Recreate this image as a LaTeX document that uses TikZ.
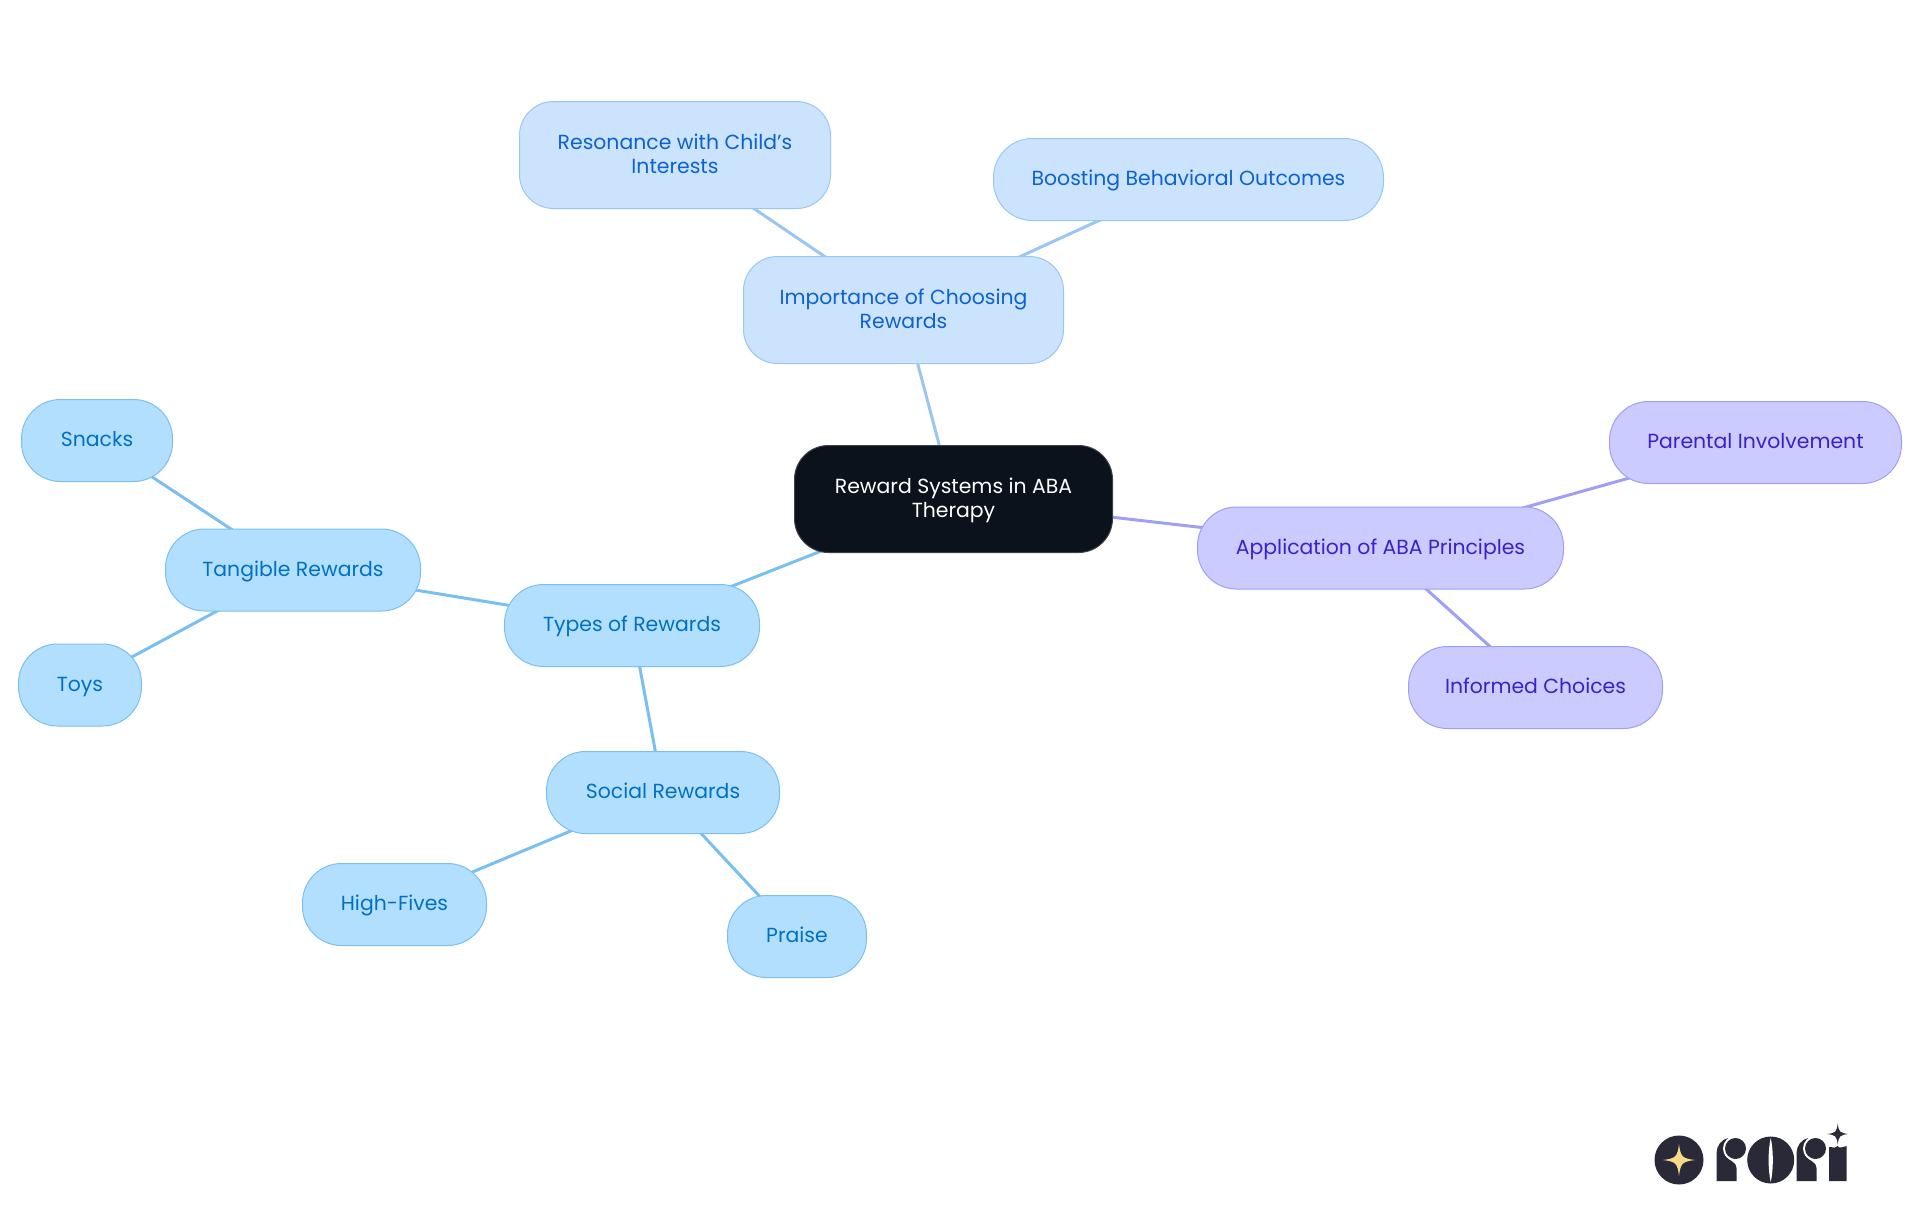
\documentclass[tikz,border=0pt]{standalone}
\usepackage{fontspec}
\setmainfont{Poppins}
\usetikzlibrary{backgrounds}
\definecolor{rootfill}{HTML}{0B121B}
\definecolor{rootline}{HTML}{3C4149}
\definecolor{paleblue}{HTML}{CCE3FD}
\definecolor{paleline}{HTML}{9AC6F3}
\definecolor{paletext}{HTML}{0B62D0}
\definecolor{skyblue}{HTML}{B3DFFF}
\definecolor{skyline}{HTML}{7ABFF2}
\definecolor{skytext}{HTML}{0070C4}
\definecolor{lilac}{HTML}{CBCBFF}
\definecolor{lilacline}{HTML}{9F9FF6}
\definecolor{lilactext}{HTML}{3A22C8}
\definecolor{logodark}{HTML}{2A2937}
\definecolor{logostar}{HTML}{FBD98A}
\tikzset{
  box/.style={rectangle,rounded corners=39pt,line width=1pt,align=center,
    font=\fontsize{20.4}{24.5}\selectfont,inner sep=0pt,minimum height=82pt,
    text height=15.5pt,text depth=3pt},
  tall/.style={rounded corners=34pt,minimum height=107pt,text height=40pt},
  rootbox/.style={box,fill=rootfill,draw=rootline,text=white},
  palebox/.style={box,fill=paleblue,draw=paleline,text=paletext},
  skybox/.style={box,fill=skyblue,draw=skyline,text=skytext},
  lilacbox/.style={box,fill=lilac,draw=lilacline,text=lilactext},
  link/.style={line width=3pt}
}
\newcommand{\logostar}[3]{% x, y, radius
  \fill (#1-#3,#2) .. controls (#1-.2*#3,#2-.1*#3) and (#1-.1*#3,#2-.2*#3) .. (#1,#2-#3)
    .. controls (#1+.1*#3,#2-.2*#3) and (#1+.2*#3,#2-.1*#3) .. (#1+#3,#2)
    .. controls (#1+.2*#3,#2+.1*#3) and (#1+.1*#3,#2+.2*#3) .. (#1,#2+#3)
    .. controls (#1-.1*#3,#2+.2*#3) and (#1-.2*#3,#2+.1*#3) .. (#1-#3,#2) -- cycle;
}
\newcommand{\logor}[1]{% the letter r, from its left edge
  \fill[logodark] (#1,1181) -- (#1,1153) .. controls (#1,1146) and (#1+5,1139) .. (#1+12,1138)
    .. controls (#1+7,1144) and (#1+6,1152) .. (#1+9,1156)
    .. controls (#1+13,1161) and (#1+20,1162) .. (#1+20,1168) -- (#1+20,1181) -- cycle;
  \fill[white] (#1+19,1148.5) circle (12.5);
  \fill[logodark] (#1+19,1148.5) circle (10.5);
}
\begin{document}
\begin{tikzpicture}[x=1pt,y=-1pt]
\useasboundingbox (0,0) rectangle (1920,1215);
% center
\node[rootbox,tall,minimum width=318pt] (root) at (953.5,499) {Reward Systems in ABA\\Therapy};
% top branch
\node[palebox,tall,minimum width=320pt] (choosing) at (903.5,310) {Importance of Choosing\\Rewards};
\node[palebox,tall,minimum width=311pt] (interests) at (675,155) {Resonance with Child's\\Interests};
\node[palebox,minimum width=390pt] (outcomes) at (1188.5,179.5) {Boosting Behavioral Outcomes};
% right branch
\node[lilacbox,minimum width=366pt] (principles) at (1380.5,548) {Application of ABA Principles};
\node[lilacbox,minimum width=292pt] (parental) at (1755.5,442.5) {Parental Involvement};
\node[lilacbox,minimum width=254pt] (informed) at (1535.5,687.5) {Informed Choices};
% left branch
\node[skybox,minimum width=255pt] (types) at (632,625.5) {Types of Rewards};
\node[skybox,minimum width=255pt] (tangible) at (293,570) {Tangible Rewards};
\node[skybox,minimum width=151pt] (snacks) at (97,440.5) {Snacks};
\node[skybox,minimum width=123pt] (toys) at (80,685) {Toys};
\node[skybox,minimum width=233pt] (social) at (663,792.5) {Social Rewards};
\node[skybox,minimum width=184pt] (fives) at (394.5,904.5) {High-Fives};
\node[skybox,minimum width=139pt] (praise) at (797,936.5) {Praise};
\begin{scope}[on background layer]
\draw[link,paleline] (root.center) -- (choosing.center);
\draw[link,paleline] (choosing.center) -- (interests.center);
\draw[link,paleline] (choosing.center) -- (outcomes.center);
\draw[link,lilacline] (root.center) -- (principles.center);
\draw[link,lilacline] (principles.center) -- (parental.center);
\draw[link,lilacline] (principles.center) -- (informed.center);
\draw[link,skyline] (root.center) -- (types.center);
\draw[link,skyline] (types.center) -- (tangible.center);
\draw[link,skyline] (tangible.center) -- (snacks.center);
\draw[link,skyline] (tangible.center) -- (toys.center);
\draw[link,skyline] (types.center) -- (social.center);
\draw[link,skyline] (social.center) -- (fives.center);
\draw[link,skyline] (social.center) -- (praise.center);
\end{scope}
% logo
\fill[logodark] (1679,1160) circle (24.5);
\begin{scope}[logostar]
\logostar{1679}{1160}{16}
\end{scope}
\logor{1716.5}
\fill[logodark] (1770.7,1160) circle (23.5);
\fill[white] (1770.7,1138) .. controls (1773.5,1150) and (1773.5,1170) .. (1770.7,1182)
  .. controls (1767.9,1170) and (1767.9,1150) .. (1770.7,1138) -- cycle;
\logor{1796.5}
\fill[logodark] (1829,1181) -- (1829,1147) .. controls (1834,1147) and (1836,1149) .. (1837.5,1146)
  .. controls (1839,1149) and (1842,1147) .. (1846.7,1146) -- (1846.7,1181) -- cycle;
\begin{scope}[logodark]
\logostar{1837.7}{1134}{10.5}
\end{scope}
\end{tikzpicture}
\end{document}
